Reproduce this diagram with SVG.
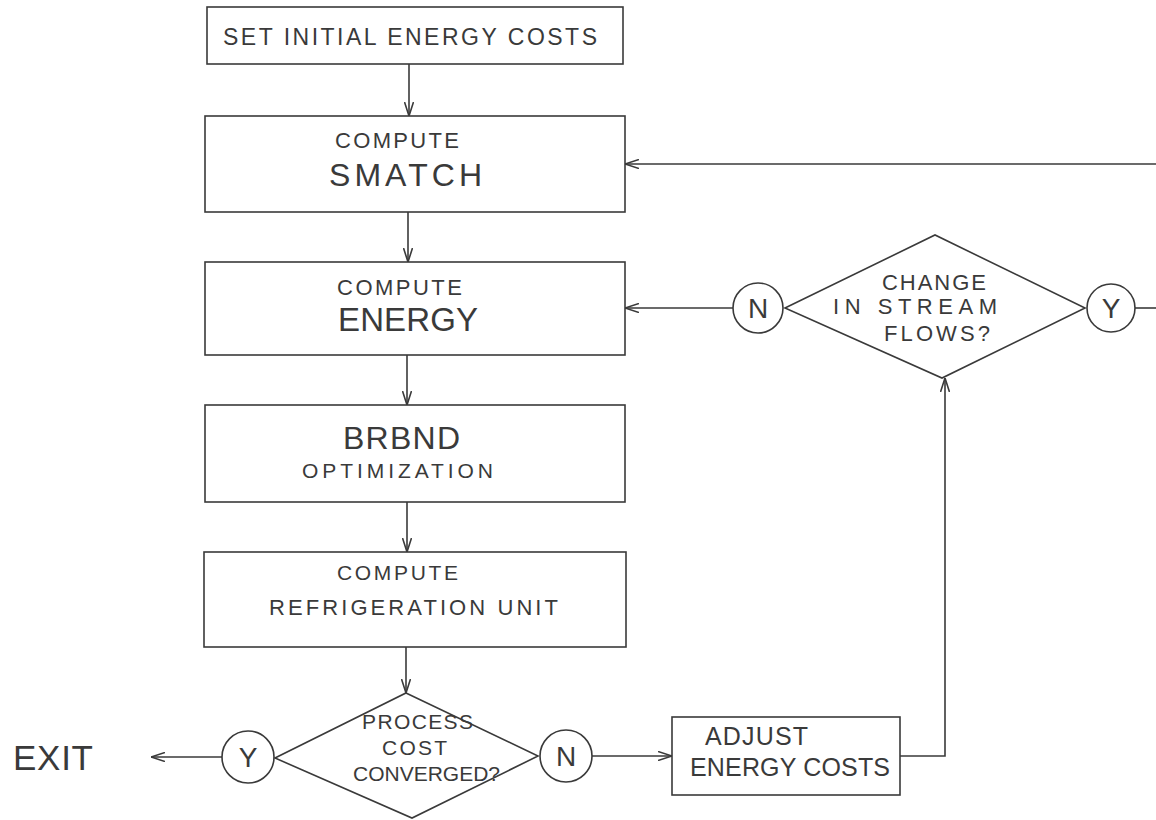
<svg xmlns="http://www.w3.org/2000/svg" width="1156" height="820" viewBox="0 0 1156 820">
<defs>
<style>
.box{fill:none;stroke:#3a3a3a;stroke-width:1.6}
.ln{fill:none;stroke:#3a3a3a;stroke-width:1.6}
.t{font-family:"Liberation Sans",Arial,sans-serif;fill:#3a3a3a}
</style>
<marker id="arr" viewBox="0 0 14 10" refX="14" refY="5" markerWidth="14" markerHeight="10" markerUnits="userSpaceOnUse" orient="auto">
<path d="M0,0.5 L14,5 L0,9.5" fill="none" stroke="#3a3a3a" stroke-width="1.6"/>
</marker>
</defs>
<rect width="1156" height="820" fill="#ffffff"/>

<g id="n-set">
<rect class="box" x="207" y="7" width="416" height="57"/>
<text class="t" x="223" y="45" font-size="23" textLength="374" lengthAdjust="spacing">SET INITIAL ENERGY COSTS</text>
</g>
<g id="n-smatch">
<rect class="box" x="205" y="116" width="420" height="96"/>
<text class="t" x="335" y="148" font-size="22" textLength="124" lengthAdjust="spacing">COMPUTE</text>
<text class="t" x="329" y="186" font-size="32" textLength="153" lengthAdjust="spacing">SMATCH</text>
</g>
<g id="n-energy">
<rect class="box" x="205" y="262" width="420" height="93"/>
<text class="t" x="337" y="295" font-size="22" textLength="125" lengthAdjust="spacing">COMPUTE</text>
<text class="t" x="338" y="331" font-size="33" textLength="140" lengthAdjust="spacing">ENERGY</text>
</g>
<g id="n-brbnd">
<rect class="box" x="205" y="405" width="420" height="97"/>
<text class="t" x="343" y="449" font-size="32" textLength="117" lengthAdjust="spacing">BRBND</text>
<text class="t" x="302" y="478" font-size="21" textLength="191" lengthAdjust="spacing">OPTIMIZATION</text>
</g>
<g id="n-refrig">
<rect class="box" x="204" y="552" width="422" height="95"/>
<text class="t" x="337" y="580" font-size="21" textLength="121" lengthAdjust="spacing">COMPUTE</text>
<text class="t" x="269" y="615" font-size="22" textLength="289" lengthAdjust="spacing">REFRIGERATION UNIT</text>
</g>
<g id="n-converged">
<polygon class="box" points="406,693 538,756 412,818 275,758"/>
<text class="t" x="362" y="729" font-size="21" textLength="111" lengthAdjust="spacing">PROCESS</text>
<text class="t" x="382" y="755" font-size="21" textLength="65" lengthAdjust="spacing">COST</text>
<text class="t" x="353" y="781" font-size="21" textLength="147" lengthAdjust="spacing">CONVERGED?</text>
</g>
<g id="n-y1">
<circle class="box" cx="248" cy="757" r="26"/>
<text class="t" x="248" y="767" font-size="28" text-anchor="middle">Y</text>
</g>
<g id="n-n1">
<circle class="box" cx="566" cy="756" r="26"/>
<text class="t" x="566" y="766" font-size="28" text-anchor="middle">N</text>
</g>
<g id="n-exit">
<text class="t" x="13" y="770" font-size="35" textLength="80" lengthAdjust="spacing">EXIT</text>
</g>
<g id="n-adjust">
<rect class="box" x="672" y="717" width="228" height="78"/>
<text class="t" x="705" y="745" font-size="25" textLength="103" lengthAdjust="spacing">ADJUST</text>
<text class="t" x="690" y="776" font-size="25" textLength="200" lengthAdjust="spacing">ENERGY COSTS</text>
</g>
<g id="n-change">
<polygon class="box" points="785,308 935,235 1085,308 942,378"/>
<text class="t" x="882" y="290" font-size="22" textLength="104" lengthAdjust="spacing">CHANGE</text>
<text class="t" x="833" y="314" font-size="22" textLength="164" lengthAdjust="spacing">IN STREAM</text>
<text class="t" x="884" y="341" font-size="22" textLength="106" lengthAdjust="spacing">FLOWS?</text>
</g>
<g id="n-n2">
<circle class="box" cx="758" cy="308" r="25"/>
<text class="t" x="758" y="318" font-size="28" text-anchor="middle">N</text>
</g>
<g id="n-y2">
<circle class="box" cx="1111" cy="308" r="24"/>
<text class="t" x="1111" y="318" font-size="28" text-anchor="middle">Y</text>
</g>

<g id="connectors">
<line class="ln" x1="409" y1="64" x2="409" y2="116" marker-end="url(#arr)"/>
<line class="ln" x1="408" y1="212" x2="408" y2="262" marker-end="url(#arr)"/>
<line class="ln" x1="407" y1="355" x2="407" y2="405" marker-end="url(#arr)"/>
<line class="ln" x1="407" y1="502" x2="407" y2="552" marker-end="url(#arr)"/>
<line class="ln" x1="406" y1="647" x2="406" y2="693" marker-end="url(#arr)"/>
<line class="ln" x1="222" y1="757" x2="151" y2="757" marker-end="url(#arr)"/>
<line class="ln" x1="592" y1="756" x2="672" y2="756" marker-end="url(#arr)"/>
<polyline class="ln" points="900,756 945,756 945,378" marker-end="url(#arr)"/>
<line class="ln" x1="733" y1="308" x2="625" y2="308" marker-end="url(#arr)"/>
<line class="ln" x1="1135" y1="308" x2="1160" y2="308"/>
<line class="ln" x1="1160" y1="164" x2="625" y2="164" marker-end="url(#arr)"/>
</g>
</svg>
